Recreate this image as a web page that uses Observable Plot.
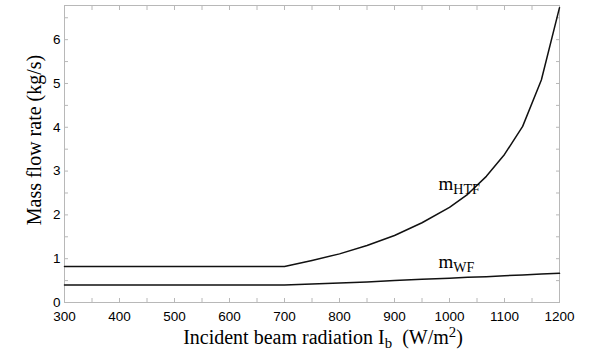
<!DOCTYPE html>
<html>
<head>
<meta charset="utf-8">
<script src="https://cdn.jsdelivr.net/npm/d3@7"></script>
<script src="https://cdn.jsdelivr.net/npm/@observablehq/plot@0.6"></script>
<style>
  html, body { margin: 0; padding: 0; background: #fff; }
</style>
</head>
<body>
<div id="chart"></div>
<script>
// Incident beam radiation (W/m2)
const radiation = [300, 400, 500, 600, 700, 750, 800, 850, 900, 950, 1000, 1033, 1067, 1100, 1133, 1167, 1200];
// Mass flow rate of heat transfer fluid (kg/s)
const mHTF = [0.82, 0.82, 0.82, 0.82, 0.82, 0.96, 1.11, 1.30, 1.53, 1.82, 2.17, 2.47, 2.88, 3.38, 4.02, 5.08, 6.73];
// Mass flow rate of working fluid (kg/s)
const mWF = [0.40, 0.40, 0.40, 0.40, 0.40, 0.42, 0.445, 0.47, 0.50, 0.53, 0.555, 0.575, 0.59, 0.61, 0.63, 0.65, 0.665];

const xTicks = [300, 400, 500, 600, 700, 800, 900, 1000, 1100, 1200];
const xMinor = d3.range(300, 1201, 50);
const yTicks = [0, 1, 2, 3, 4, 5, 6];
const yMinor = d3.range(0, 6.51, 0.5);

const curveLabels = [
  {x: 980, y: 2.70, text: "m_{HTF}"},
  {x: 980, y: 0.93, text: "m_{WF}"}
];
const xTitle = "Incident beam radiation I_{b}\u00a0\u00a0(W/m^{2})";
const yTitle = "Mass flow rate (kg/s)";

const rows = radiation.map((r, i) => ({r, htf: mHTF[i], wf: mWF[i]}));

const frameGray = "#b8b8b8";
const serif = "'Liberation Serif', 'Times New Roman', serif";
const fmt = d3.format("d");

const chart = Plot.plot({
  width: 606,
  height: 360,
  marginLeft: 64,
  marginRight: 47,
  marginTop: 5,
  marginBottom: 58,
  style: {fontFamily: "'Liberation Sans', Arial, sans-serif", fontSize: "13.5px", color: "#000", background: "#fff"},
  x: {domain: [300, 1200]},
  y: {domain: [0, 6.78]},
  marks: [
    Plot.frame({stroke: frameGray}),
    // minor inward ticks on all four sides
    Plot.axisX({anchor: "bottom", ticks: xMinor, tickSize: -4, tickFormat: () => "", stroke: frameGray, label: null}),
    Plot.axisX({anchor: "top", ticks: xMinor, tickSize: -4, tickFormat: () => "", stroke: frameGray, label: null}),
    Plot.axisY({anchor: "left", ticks: yMinor, tickSize: -4, tickFormat: () => "", stroke: frameGray, label: null}),
    Plot.axisY({anchor: "right", ticks: yMinor, tickSize: -4, tickFormat: () => "", stroke: frameGray, label: null}),
    // labels
    Plot.axisX({anchor: "bottom", ticks: xTicks, tickSize: 0, tickPadding: 9, tickFormat: fmt, label: null, fill: "#000"}),
    Plot.axisY({anchor: "left", ticks: yTicks, tickSize: 0, tickPadding: 4, tickFormat: fmt, label: null, fill: "#000"}),
    Plot.line(rows, {x: "r", y: "htf", stroke: "#111", strokeWidth: 1.5}),
    Plot.line(rows, {x: "r", y: "wf", stroke: "#111", strokeWidth: 1.5}),
    Plot.text(curveLabels, {x: "x", y: "y", text: "text", textAnchor: "start", fontFamily: serif, fontSize: 19, fill: "#000"}),
    Plot.text([xTitle], {frameAnchor: "bottom", textAnchor: "middle", dx: 11, dy: 41, text: d => d, fontFamily: serif, fontSize: 20, fill: "#000"}),
    Plot.text([yTitle], {frameAnchor: "left", textAnchor: "middle", dx: -30, dy: -14, rotate: -90, text: d => d, fontFamily: serif, fontSize: 20, fill: "#000"})
  ]
});

// turn _{..} and ^{..} into subscript / superscript tspans
d3.select(chart).selectAll("text").each(function() {
  const s = this.textContent;
  if (!/[_^]\{/.test(s)) return;
  const parts = s.split(/([_^]\{[^}]*\})/).filter(p => p.length);
  while (this.firstChild) this.removeChild(this.firstChild);
  const t = d3.select(this);
  for (const p of parts) {
    const m = p.match(/^([_^])\{(.*)\}$/);
    const ts = t.append("tspan");
    if (m) {
      ts.text(m[2]).attr("font-size", "0.74em").attr("baseline-shift", m[1] === "_" ? "-4px" : "7px");
    } else {
      ts.text(p);
    }
  }
});

document.getElementById("chart").appendChild(chart);
</script>
</body>
</html>
